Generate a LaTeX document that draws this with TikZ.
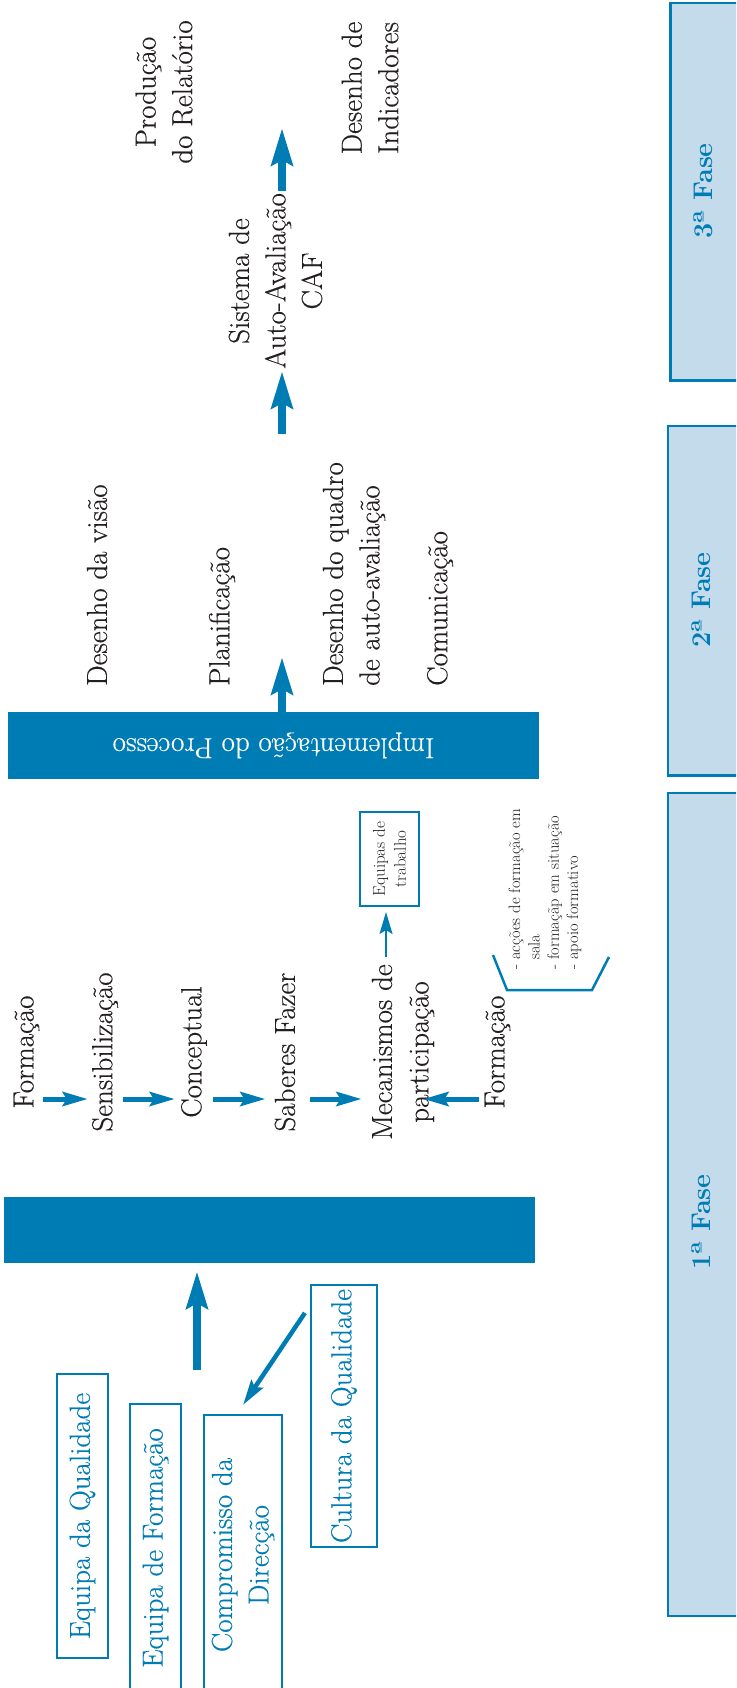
\documentclass[tikz,border=0pt]{standalone}
\usepackage{fontspec}
\usetikzlibrary{arrows.meta,calc}

\newfontfamily\labelfont{Latin Modern Roman}[FakeBold=0.35]

\definecolor{dkblue}{RGB}{0,124,181}
\definecolor{paleblue}{RGB}{196,219,236}
\definecolor{ink}{RGB}{35,31,32}

\newcommand{\mainsize}{\labelfont\fontsize{29}{36.5}\selectfont}
\newcommand{\listsize}{\fontsize{16.5}{19.3}\selectfont}
\newcommand{\teamsize}{\fontsize{17}{21}\selectfont}

\begin{document}
\begin{tikzpicture}[x=1pt,y=-1pt,
  txt/.style={rotate=90, inner sep=0pt, font=\mainsize, text=ink, align=center},
  lefttxt/.style={txt, anchor=west, align=left},
  bar/.style={fill=dkblue, inner sep=0pt, text=white, font=\mainsize},
  phasebox/.style={draw=dkblue, fill=paleblue, line width=2.5pt},
  phaselabel/.style={rotate=90, inner sep=0pt, text=dkblue, font=\fontsize{27}{32}\selectfont\bfseries},
  bluebox/.style={rotate=90, draw=dkblue, line width=2.2pt, inner sep=0pt, text=dkblue, font=\mainsize, align=center},
  teambox/.style={rotate=90, draw=dkblue, line width=2pt, inner sep=0pt, text=ink, font=\teamsize, align=center},
  bigarrow/.style={draw=dkblue, line width=8pt, -{Stealth[length=37pt,width=21pt,inset=5pt]}},
  harrow/.style={draw=dkblue, line width=5pt, -{Stealth[length=25pt,width=14pt,inset=4pt]}},
  diagarrow/.style={draw=dkblue, line width=4.5pt, -{Stealth[length=25pt,width=14pt,inset=4pt]}},
  thinarrow/.style={draw=dkblue, line width=2pt, -{Stealth[length=22pt,width=13pt,inset=4pt]}}
]
\useasboundingbox (0,0) rectangle (736,1688);
\clip (0,0) rectangle (736,1688);

% phase bands on the right
\draw[phasebox] (670.5,3) rectangle (760,380.5);
\draw[phasebox] (668,426) rectangle (760,775.5);
\draw[phasebox] (668,793) rectangle (760,1616);
\node[phaselabel] (fase3) at (703,191) {3ª Fase};
\node[phaselabel] (fase2) at (701,600) {2ª Fase};
\node[phaselabel] (fase1) at (701,1222) {1ª Fase};

% phase 3
\node[txt] (relatorio) at (164,92) {Produção\\do Relatório};
\node[txt] (indicadores) at (370,88) {Desenho de\\Indicadores};
\node[txt] (caf) at (275.5,281) {Sistema de\\Auto-Avaliação\\CAF};

% phase 2
\node[bar, rotate=180, minimum width=531pt, minimum height=67pt] (impl) at (273.5,745.5) {Implementação do Processo};
\node[lefttxt] (visao) at (97,686) {Desenho da visão};
\node[lefttxt] (planif) at (222,686) {Planificação};
\node[lefttxt] (quadro) at (354,686) {Desenho do quadro\\de auto-avaliação};
\node[lefttxt] (comunic) at (440,686) {Comunicação};

\coordinate (spine) at (282,0);
\coordinate (implTip) at (282,657);
\coordinate (cafFoot) at (282,434);
\coordinate (topTip) at (282,128);
\draw[bigarrow] (impl.south -| spine) -- (implTip);
\draw[bigarrow, shorten >=2pt] (cafFoot) -- (caf.west -| spine);
\draw[bigarrow, shorten <=2pt] (caf.east -| spine) -- (topTip);

% phase 1: chain of stages
\node[txt] (form1) at (26.5,1052) {Formação};
\node[txt] (sens) at (105,1052) {Sensibilização};
\node[txt] (concept) at (194,1052) {Conceptual};
\node[txt] (saberes) at (285,1052) {Saberes Fazer};
\node[txt] (mec) at (403,1052) {Mecanismos de\\participação};
\node[txt] (form2) at (497.5,1052) {Formação};

\draw[harrow, shorten <=3.5pt, shorten >=4pt] ([yshift=-47pt]form1.south) -- ([yshift=-47pt]sens.north);
\draw[harrow, shorten <=5pt, shorten >=6pt] ([yshift=-47pt]sens.south) -- ([yshift=-47pt]concept.north);
\draw[harrow, shorten <=6pt, shorten >=9pt] ([yshift=-47pt]concept.south) -- ([yshift=-47pt]saberes.north);
\draw[harrow, shorten <=14.5pt, shorten >=10pt] ([yshift=-47pt]saberes.south) -- ([yshift=-47pt]mec.north);
\draw[harrow, shorten <=5.5pt, shorten >=-11pt] ([yshift=-47pt]form2.north) -- ([yshift=-47pt]mec.south);

% working teams
\node[teambox, minimum width=94pt, minimum height=59pt] (equipas) at (389.5,859) {Equipas de\\trabalho};
\coordinate (mecTop) at ([xshift=-17pt,yshift=7pt]mec.east);
\draw[thinarrow, shorten >=5pt] (mecTop) -- (equipas.west -| mecTop);

% training modes
\node[txt, anchor=west, align=left, font=\listsize] (modos) at (545,970)
  {- acções de formação em\\\phantom{- }sala\\- formaçãp em situação\\- apoio formativo};
\draw[dkblue, line width=2.5pt] (493,955) -- (507,990) -- (592,990) -- (609,957);

% phase 1: base
\node[bar, minimum width=531pt, minimum height=66pt] (base1) at (269.5,1230) {};
\coordinate (riseFoot) at (197,1370);
\draw[bigarrow, shorten >=8pt] (riseFoot) -- (base1.south -| riseFoot);

\node[bluebox, minimum width=284pt, minimum height=51pt] (eqqual) at (82.5,1516) {Equipa da Qualidade};
\node[bluebox, minimum width=288pt, minimum height=51pt] (eqform) at (155.5,1548) {Equipa de Formação};
\node[bluebox, minimum width=280pt, minimum height=78pt] (compro) at (243,1555) {Compromisso da\\Direcção};
\node[bluebox, minimum width=262pt, minimum height=66pt] (cultura) at (344,1416) {Cultura da Qualidade};

\draw[diagarrow, shorten >=11pt] ([xshift=-5pt,yshift=-29pt]cultura.north east) -- ([xshift=-6pt]compro.east);
\end{tikzpicture}
\end{document}
